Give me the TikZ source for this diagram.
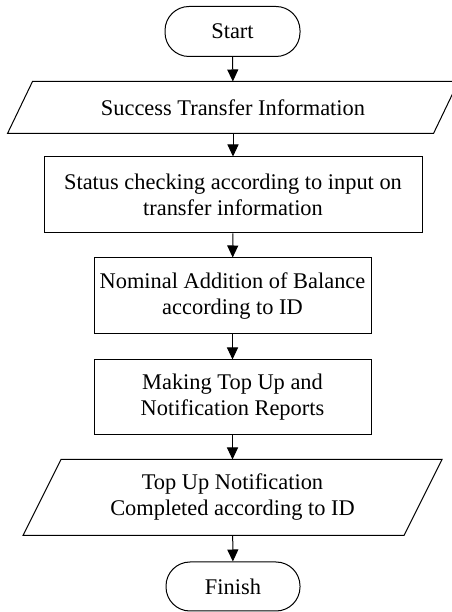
\documentclass[tikz,border=0pt]{standalone}
\usepackage{fontspec}
\setmainfont{Liberation Serif}
\usetikzlibrary{arrows.meta}
\begin{document}
\begin{tikzpicture}[x=1pt,y=1pt,
  line width=1pt,
  every node/.style={font=\fontsize{22.4}{26}\selectfont, align=center, inner sep=0pt},
  terminal/.style={draw, rounded corners=24pt, minimum width=135pt, minimum height=50pt},
  process/.style={draw, minimum width=#1, minimum height=76pt},
  iobox/.style={minimum width=#1},
  flow/.style={-{Triangle[length=12pt,width=11pt]}}
]
\useasboundingbox (0,0) rectangle (451,612);
\fill[white] (0,0) rectangle (451,612);

% nodes, positioned by centre (y measured upward)
\node[terminal] (start) at (232.5,580.5) {Start};
\node[iobox=425pt, minimum height=51pt] (info) at (233,504.5) {Success Transfer Information};
\node[process=378pt] (check) at (233,417) {Status checking according to input on\\transfer information};
\node[process=277pt] (add) at (232.5,316) {Nominal Addition of Balance\\according to ID};
\node[process=277pt, minimum height=75pt] (report) at (232.5,214.5) {Making Top Up and\\Notification Reports};
\node[iobox=380pt, minimum height=75pt] (done) at (232.5,114.5) {Top Up Notification\\Completed according to ID};
\node[terminal, minimum width=134pt, minimum height=49pt] (finish) at (233,25.5) {Finish};

% parallelogram outlines for the input/output boxes
\draw ([xshift=12.5pt]info.north west) -- ([xshift=12.5pt]info.north east)
      -- ([xshift=-12.5pt]info.south east) -- ([xshift=-12.5pt]info.south west) -- cycle;
\draw ([xshift=19pt]done.north west) -- ([xshift=19pt]done.north east)
      -- ([xshift=-19pt]done.south east) -- ([xshift=-19pt]done.south west) -- cycle;

% connectors
\draw[flow] (start) -- (info);
\draw[flow] (info) -- (check);
\draw[flow] (check) -- (add);
\draw[flow] (add) -- (report);
\draw[flow] (report) -- (done);
\draw[flow] (done) -- (finish);
\end{tikzpicture}
\end{document}
